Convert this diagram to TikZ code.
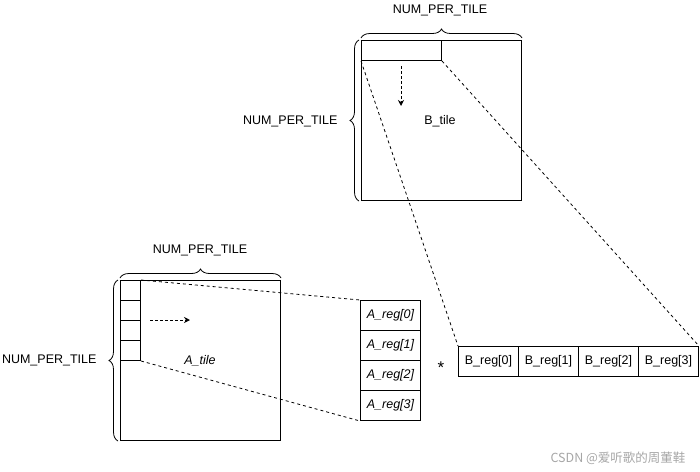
\documentclass[tikz,border=0pt]{standalone}
\usepackage{fontspec}
\setmainfont{Liberation Sans}
\newfontfamily\cjkfont{Noto Sans CJK SC}
\usetikzlibrary{decorations.pathreplacing,arrows.meta}
\begin{document}
\begin{tikzpicture}[x=1pt,y=-1pt,line width=1pt,
  every node/.style={font=\fontsize{12.5}{14}\selectfont},
  sq/.style={draw,inner sep=0pt,anchor=north west,minimum width=160pt,minimum height=160pt},
  cell/.style={draw,inner sep=0pt,anchor=north west,minimum width=#1},
  cell/.default=20pt,
  lbl/.style={inner sep=1pt},
  brc/.style={decorate,decoration={brace,amplitude=9pt},line width=0.8pt},
  conn/.style={dashed,dash pattern=on 3pt off 3pt,line width=0.8pt},
  move/.style={dashed,dash pattern=on 3pt off 2pt,line width=0.9pt,-{Stealth[length=6pt,width=6pt]}}]
\useasboundingbox (0,0) rectangle (700,471);
% ---------- B tile ----------
\node[sq] (Bt) at (361,40) {};
\node[cell,minimum width=80pt,minimum height=20pt] (Bs) at (361,40) {};
\node[lbl] (Btl) at (440,121) {B\_tile};
\coordinate (Ba0) at (401,66);
\coordinate (Ba1) at (401,106);
\draw[move] (Ba0) -- (Ba1);
\draw[brc] ([yshift=2pt]Bt.north west) -- ([yshift=2pt]Bt.north east);
\node[lbl] (Btop) at (440,10) {NUM\_PER\_TILE};
\draw[brc] ([xshift=-2pt]Bt.south west) -- ([xshift=-2pt]Bt.north west);
\node[lbl,anchor=east] (Bleft) at (339,121) {NUM\_PER\_TILE};
% ---------- A tile ----------
\node[sq] (At) at (120,280) {};
\node[cell,minimum height=20pt] (a1) at (120,280) {};
\node[cell,minimum height=20pt] (a2) at (120,300) {};
\node[cell,minimum height=20pt] (a3) at (120,320) {};
\node[cell,minimum height=20pt] (a4) at (120,340) {};
\node[lbl] (Atl) at (200,361) {\itshape A\_tile};
\coordinate (Aa0) at (150,320);
\coordinate (Aa1) at (190,320);
\draw[move] (Aa0) -- (Aa1);
\draw[brc] ([yshift=2pt]At.north west) -- ([yshift=2pt]At.north east);
\node[lbl] (Atop) at (200,250) {NUM\_PER\_TILE};
\draw[brc] ([xshift=-2pt]At.south west) -- ([xshift=-2pt]At.north west);
\node[lbl,anchor=east] (Aleft) at (98,360) {NUM\_PER\_TILE};
% ---------- A_reg ----------
\foreach \i in {0,1,2,3}{
  \node[cell=60pt,minimum height=30pt] (r\i) at (360,300+30*\i) {};
  \node[lbl] at (r\i.center) {\itshape A\_reg[\i]};
}
% ---------- B_reg ----------
\foreach \i in {0,1,2,3}{
  \node[cell=60pt,minimum height=30pt] (b\i) at (458+60*\i,346) {};
  \node[lbl] at (b\i.center) {B\_reg[\i]};
}
\node[lbl,font=\fontsize{17}{18}\selectfont] (star) at (441,368) {*};
% ---------- connectors ----------
\draw[conn] (a1.north east) -- (r0.north west);
\draw[conn] (a4.south east) -- (r3.south west);
\draw[conn] (Bs.south west) -- (b0.north west);
\draw[conn] (Bs.south east) -- (b3.north east);
% ---------- watermark ----------
\node[lbl,text=black!35,font=\cjkfont\fontsize{12.5}{14}\selectfont] (wm) at (618,458) {CSDN @爱听歌的周董鞋};
\end{tikzpicture}
\end{document}
